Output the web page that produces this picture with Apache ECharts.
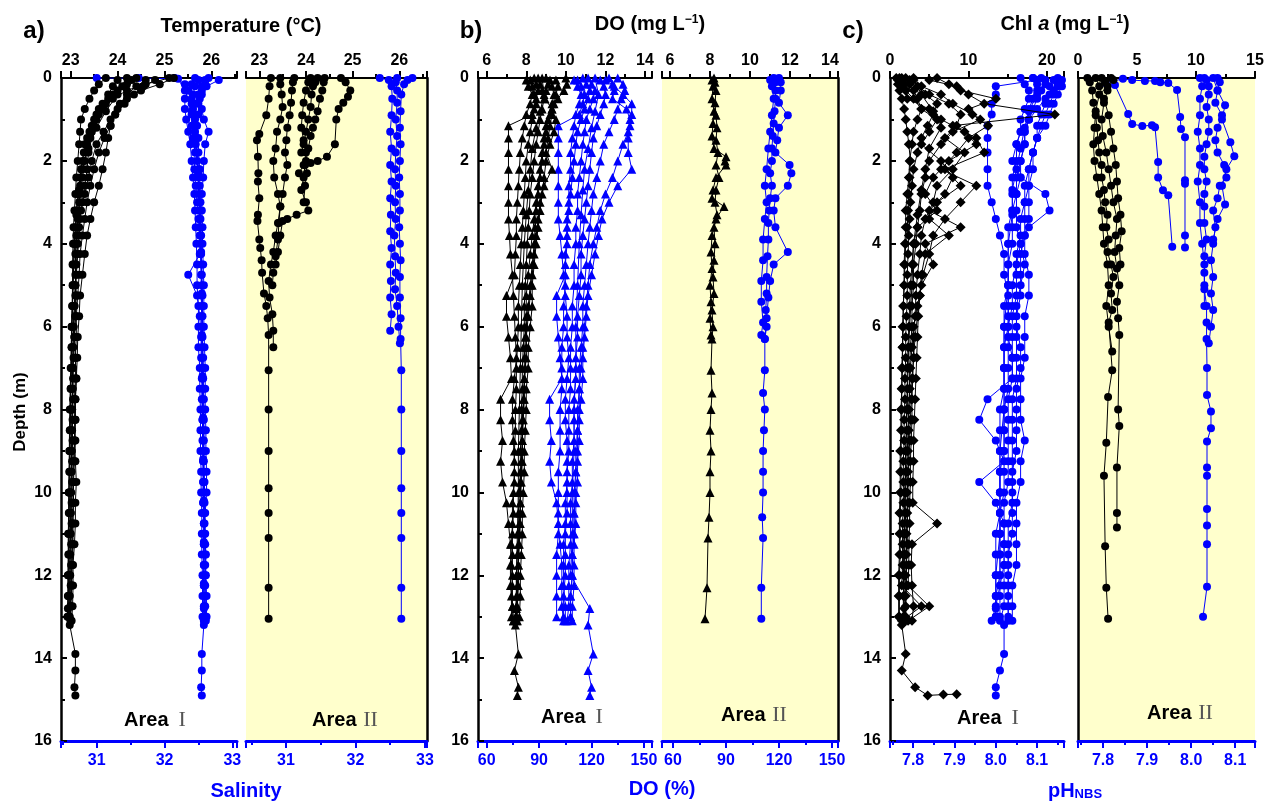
<!DOCTYPE html>
<html>
<head>
<meta charset="utf-8">
<script src="https://cdn.jsdelivr.net/npm/echarts@6/dist/echarts.min.js"></script>
<style>
  html, body { margin: 0; padding: 0; background: #fff; }
  #chart { width: 1275px; height: 805px; }
</style>
</head>
<body>
<div id="chart"></div>
<script>
// depth grids (m) shared by the Area I profiles
const depthEven = [0, 0.15, 0.3, 0.5, 0.75, 1.0, 1.3, 1.6, 2.0, 2.4, 2.8, 3.2, 3.6, 4.0, 4.5, 5.0, 5.5, 6.0, 6.5, 7.0, 7.5, 8.0, 8.5, 9.0, 9.5, 10.0, 10.5, 11.0, 11.5, 12.0, 12.5, 13.0];
const depthOdd = [0.05, 0.2, 0.4, 0.62, 0.88, 1.15, 1.45, 1.8, 2.2, 2.6, 3.0, 3.4, 3.8, 4.25, 4.75, 5.25, 5.75, 6.25, 6.75, 7.25, 7.75, 8.25, 8.75, 9.25, 9.75, 10.25, 10.75, 11.25, 11.75, 12.25, 12.75, 13.1];
const depthLong = [0, 0.4, 0.8, 1.2, 1.7, 2.2, 2.7, 3.3, 4.0, 5.0, 6.0, 7.0, 8.0, 9.0, 10.0, 11.0, 12.0, 12.8, 13.2, 13.9, 14.3, 14.7, 14.9];

// a) Area I temperature (°C)
const tA1 = [25.1, 24.6, 24.2, 23.9, 23.7, 23.55, 23.45, 23.35, 23.3, 23.25, 23.2, 23.18, 23.15, 23.12, 23.1, 23.1, 23.08, 23.06, 23.05, 23.05, 23.04, 23.03, 23.03, 23.02, 23.02, 23.0, 23.0, 22.99, 22.98, 22.98, 22.97, 22.97];
const tA2 = [24.8, 24.55, 24.35, 24.15, 23.95, 23.85, 23.72, 23.6, 23.5, 23.42, 23.35, 23.3, 23.25, 23.2, 23.18, 23.15, 23.12, 23.12, 23.1, 23.1, 23.08, 23.1, 23.08, 23.06, 23.05, 23.05, 23.04, 23.05, 23.03, 23.02, 23.0, 23.0];
const tA3 = [24.4, 24.2, 24.0, 23.8, 23.6, 23.5, 23.4, 23.3, 23.25, 23.2, 23.15, 23.12, 23.1, 23.08, 23.06, 23.05, 23.04, 23.03, 23.02, 23.02, 23.0, 23.0, 22.98, 22.98, 22.97, 22.96, 22.96, 22.95, 22.95, 22.94, 22.94, 22.93];
const tA4 = [24.0, 23.9, 23.8, 23.68, 23.55, 23.45, 23.35, 23.28, 23.22, 23.2, 23.18, 23.15, 23.12, 23.1, 23.1, 23.12, 23.1, 23.08, 23.1, 23.12, 23.1, 23.08, 23.1, 23.08, 23.06, 23.06, 23.05, 23.04, 23.02, 23.02, 23.0, 23.0];
const tA5 = [23.75, 23.6, 23.5, 23.4, 23.3, 23.22, 23.2, 23.18, 23.15, 23.12, 23.1, 23.08, 23.06, 23.05, 23.04, 23.04, 23.03, 23.02, 23.02, 23.01, 23.0, 23.0, 22.99, 22.99, 22.98, 22.98, 22.97, 22.97, 22.96, 22.96, 22.95, 22.95];
const tA6 = [24.6, 24.4, 24.2, 24.05, 23.95, 23.85, 23.8, 23.75, 23.68, 23.6, 23.5, 23.42, 23.35, 23.3, 23.25, 23.2, 23.18, 23.15, 23.14, 23.12, 23.1, 23.1, 23.08, 23.1, 23.12, 23.1, 23.1, 23.08, 23.05, 23.05, 23.04, 23.02];
const tA7 = [25.2, 24.9, 24.5, 24.2, 24.0, 23.85, 23.7, 23.55, 23.45, 23.38, 23.3, 23.22, 23.18, 23.15, 23.12, 23.1, 23.08, 23.06, 23.05, 23.04, 23.04, 23.03, 23.02, 23.02, 23.01, 23.01, 23.0, 23.0, 22.99, 22.99, 22.98, 22.98];
const tA8 = [24.2, 24.0, 23.75, 23.55, 23.38, 23.25, 23.18, 23.12, 23.08, 23.05, 23.02, 23.0, 22.98, 22.97, 22.96, 22.95, 22.95, 22.94, 22.98, 23.1, 23.1, 23.08, 23.1];
const tA9 = [24.3, 24.1, 23.9, 23.75, 23.6, 23.5, 23.42, 23.38, 23.35, 23.3, 23.25, 23.2, 23.18, 23.15, 23.12, 23.1, 23.1, 23.08, 23.06, 23.05, 23.05, 23.04, 23.04, 23.03, 23.03, 23.02, 23.02, 23.01, 23.01, 23.0, 23.0, 23.0];

// a) Area I salinity
const sA1 = [32.15, 32.3, 32.35, 32.4, 32.42, 32.45, 32.45, 32.46, 32.48, 32.5, 32.5, 32.52, 32.52, 32.53, 32.55, 32.55, 32.55, 32.56, 32.56, 32.57, 32.57, 32.57, 32.58, 32.58, 32.58, 32.58, 32.59, 32.59, 32.6, 32.6, 32.6, 32.6];
const sA2 = [32.8, 32.62, 32.55, 32.5, 32.5, 32.48, 32.5, 32.5, 32.52, 32.52, 32.53, 32.53, 32.54, 32.54, 32.55, 32.56, 32.56, 32.56, 32.57, 32.57, 32.58, 32.58, 32.58, 32.58, 32.59, 32.59, 32.59, 32.6, 32.6, 32.6, 32.6, 32.61];
const sA3 = [32.45, 32.4, 32.35, 32.3, 32.3, 32.32, 32.35, 32.38, 32.4, 32.42, 32.44, 32.45, 32.46, 32.47, 32.48, 32.48, 32.5, 32.5, 32.5, 32.52, 32.52, 32.53, 32.53, 32.53, 32.54, 32.54, 32.55, 32.55, 32.55, 32.56, 32.56, 32.56];
const sA4 = [32.6, 32.55, 32.5, 32.45, 32.4, 32.4, 32.42, 32.45, 32.44, 32.46, 32.48, 32.5, 32.52, 32.52, 32.35, 32.48, 32.52, 32.54, 32.54, 32.55, 32.55, 32.56, 32.56, 32.57, 32.57, 32.57, 32.58, 32.58, 32.58, 32.58, 32.59, 32.59];
const sA5 = [32.65, 32.6, 32.55, 32.52, 32.55, 32.58, 32.65, 32.6, 32.58, 32.57, 32.55, 32.55, 32.56, 32.56, 32.57, 32.58, 32.58, 32.58, 32.59, 32.6, 32.6, 32.6, 32.61, 32.61, 32.62, 32.62, 32.6, 32.6, 32.61, 32.61, 32.62, 32.62];
const sA6 = [[31.0, 0], [31.62, 0], [32.2, 0.02], [32.3, 0.3], [32.4, 0.8], [32.45, 1.5], [32.5, 2.3], [32.52, 3.2], [32.54, 4.2], [32.55, 5.2], [32.55, 6.2], [32.56, 7.2], [32.57, 8.2], [32.57, 9.2], [32.58, 10.2], [32.58, 11.2], [32.58, 12.2], [32.58, 12.8], [32.58, 13.2], [32.55, 13.9], [32.55, 14.3], [32.54, 14.7], [32.55, 14.9]];
const sA7 = [32.5, 32.45, 32.42, 32.4, 32.42, 32.44, 32.46, 32.48, 32.5, 32.5, 32.51, 32.52, 32.53, 32.53, 32.54, 32.54, 32.55, 32.55, 32.55, 32.56, 32.56, 32.56, 32.57, 32.57, 32.57, 32.57, 32.58, 32.58, 32.58, 32.58, 32.58, 32.58];

// a) Area II temperature / salinity, [value, depth]
const tB1 = [[23.25, 0], [23.22, 0.2], [23.2, 0.5], [23.15, 0.9], [23.0, 1.35], [22.95, 1.5], [22.97, 1.9], [22.98, 2.3], [22.97, 2.5], [23.0, 2.9], [22.97, 3.3], [22.96, 3.45], [23.0, 3.9], [23.02, 4.1], [23.05, 4.4], [23.06, 4.7], [23.1, 5.2], [23.15, 5.5], [23.18, 5.8], [23.2, 6.2], [23.2, 7.05], [23.2, 8.0], [23.2, 9.0], [23.2, 9.9], [23.2, 10.5], [23.2, 11.1], [23.2, 12.3], [23.2, 13.05]];
const tB2 = [[23.45, 0], [23.45, 0.15], [23.48, 0.4], [23.5, 0.7], [23.45, 1.0], [23.38, 1.3], [23.35, 1.7], [23.3, 2.0], [23.32, 2.4], [23.4, 2.8], [23.45, 3.1], [23.4, 3.5], [23.35, 3.8], [23.3, 4.2], [23.25, 4.5], [23.2, 4.9], [23.22, 5.3], [23.28, 5.7], [23.3, 6.1], [23.3, 6.5]];
const tB3 = [[23.75, 0], [23.72, 0.1], [23.7, 0.3], [23.68, 0.6], [23.65, 0.9], [23.6, 1.2], [23.58, 1.5], [23.55, 1.8], [23.6, 2.1], [23.55, 2.4], [23.5, 2.8], [23.45, 3.1], [23.42, 3.5], [23.4, 3.9], [23.35, 4.3], [23.3, 4.7], [23.28, 5.0]];
const tB4 = [[24.1, 0], [24.05, 0.1], [24.0, 0.3], [23.95, 0.6], [23.92, 0.9], [23.9, 1.2], [23.95, 1.5], [24.0, 1.8], [23.98, 2.1], [23.95, 2.4], [23.9, 2.7], [24.0, 3.0], [24.05, 3.2], [23.8, 3.3], [23.6, 3.4], [23.5, 3.45], [23.45, 3.8], [23.4, 4.2], [23.35, 4.5]];
const tB5 = [[24.4, 0], [24.38, 0.1], [24.35, 0.3], [24.3, 0.5], [24.25, 0.8], [24.2, 1.0], [24.15, 1.2], [24.1, 1.4], [24.05, 1.7], [24.0, 2.0], [24.02, 2.3], [23.98, 2.6], [23.95, 3.0]];
const tB6 = [[24.75, 0], [24.85, 0.1], [24.95, 0.3], [24.9, 0.45], [24.8, 0.6], [24.7, 0.75], [24.65, 1.0], [24.62, 1.6], [24.45, 1.9], [24.25, 2.0], [24.1, 2.05], [23.95, 2.1], [23.85, 2.3]];
const tB7 = [[24.25, 0], [24.2, 0.1], [24.15, 0.2], [24.12, 0.4], [24.1, 0.7], [24.05, 1.0], [24.0, 1.3], [23.95, 1.6], [23.9, 1.8]];
const sB1 = [[32.35, 0], [32.48, 0.05], [32.52, 0.2], [32.53, 0.5], [32.52, 0.9], [32.5, 1.3], [32.52, 1.7], [32.5, 2.1], [32.52, 2.5], [32.5, 2.9], [32.51, 3.3], [32.5, 3.7], [32.52, 4.1], [32.5, 4.5], [32.51, 4.9], [32.5, 5.3], [32.52, 5.7], [32.5, 6.1]];
const sB2 = [[32.82, 0], [32.75, 0.05], [32.7, 0.15], [32.66, 0.4], [32.65, 0.8], [32.64, 1.2], [32.65, 1.6], [32.64, 2.0], [32.63, 2.4], [32.64, 2.8], [32.64, 3.2], [32.63, 3.6], [32.64, 4.0], [32.65, 4.4], [32.64, 4.8], [32.64, 5.3], [32.65, 5.8], [32.65, 6.3], [32.66, 7.05], [32.66, 8.0], [32.66, 9.0], [32.66, 9.9], [32.66, 10.5], [32.66, 11.1], [32.66, 12.3], [32.66, 13.05]];
const sB3 = [[32.6, 0], [32.58, 0.1], [32.6, 0.3], [32.6, 0.6], [32.58, 1.0], [32.6, 1.4], [32.58, 1.8], [32.57, 2.2], [32.58, 2.6], [32.57, 3.0], [32.58, 3.4], [32.56, 3.8], [32.57, 4.3], [32.58, 4.7], [32.57, 5.1], [32.6, 5.5], [32.62, 6.0], [32.64, 6.4]];

// b) Area I DO (mg/L) and DO (%)
const doA1 = [8.6, 8.7, 8.8, 8.9, 8.8, 8.7, 8.6, 8.5, 8.4, 8.3, 8.2, 8.15, 8.1, 8.05, 8.0, 7.95, 7.9, 7.9, 7.85, 7.8, 7.8, 7.75, 7.75, 7.7, 7.7, 7.65, 7.6, 7.6, 7.55, 7.5, 7.5, 7.45];
const doA2 = [9.2, 9.3, 9.4, 9.3, 9.2, 9.0, 8.9, 8.8, 8.7, 8.6, 8.5, 8.4, 8.3, 8.2, 8.1, 8.0, 8.0, 7.95, 7.9, 7.9, 7.85, 7.8, 7.8, 7.75, 7.7, 7.7, 7.65, 7.6, 7.6, 7.55, 7.5, 7.5];
const doA3 = [10.0, 10.05, 9.9, 9.6, 9.3, 9.1, 9.0, 8.9, 8.8, 8.7, 8.6, 8.5, 8.45, 8.4, 8.3, 8.2, 8.1, 8.0, 8.0, 7.95, 7.9, 7.85, 7.8, 7.8, 7.75, 7.7, 7.7, 7.65, 7.6, 7.6, 7.55, 7.5];
const doA4 = [8.2, 8.3, 8.4, 8.5, 8.3, 7.1, 7.1, 7.1, 7.1, 7.1, 7.1, 7.1, 7.15, 7.2, 7.3, 7.35, 7.4, 7.45, 7.5, 7.4, 7.3, 7.3, 7.35, 7.4, 7.4, 7.3, 7.3, 7.25, 7.2, 7.2, 7.3, 7.35];
const doA5 = [9.0, 9.1, 9.0, 8.95, 9.3, 9.5, 9.4, 9.2, 9.0, 8.9, 8.8, 8.7, 8.6, 8.5, 8.4, 8.3, 8.3, 8.2, 8.1, 8.1, 8.0, 8.0, 7.95, 7.9, 7.9, 7.85, 7.8, 7.8, 7.75, 7.7, 7.7, 7.65];
const doA6 = [8.0, 8.1, 8.3, 8.2, 8.0, 7.9, 7.8, 7.7, 7.65, 7.6, 7.55, 7.5, 7.5, 7.45, 7.4, 7.0, 7.0, 7.1, 7.2, 7.25, 6.7, 6.7, 6.8, 6.7, 6.8, 7.0, 7.1, 7.2, 7.25, 7.3, 7.3, 7.35];
const doA7 = [8.8, 8.9, 8.7, 8.5, 8.3, 8.2, 8.1, 8.0, 7.9, 7.8, 7.75, 7.7, 7.65, 7.6, 7.6, 7.55, 7.5, 7.5, 7.45, 7.6, 7.4, 7.6, 7.55];
const doA8 = [9.5, 9.6, 9.5, 9.4, 9.3, 9.2, 9.1, 9.0, 9.3, 8.9, 8.7, 8.6, 8.5, 8.4, 8.3, 8.2, 8.1, 8.0, 8.0, 7.9, 7.9, 7.85, 7.8, 7.8, 7.75, 7.7, 7.7, 7.65, 7.6, 7.6, 7.55, 7.55];
const doA9 = [8.4, 8.5, 8.6, 8.5, 8.4, 8.3, 8.2, 8.1, 8.0, 7.95, 7.9, 7.85, 7.8, 7.75, 7.7, 7.65, 7.6, 7.6, 7.55, 7.5, 7.5, 7.45, 7.45, 7.4, 7.4, 7.35, 7.35, 7.3, 7.3, 7.3, 7.25, 7.25];
const dpA1 = [118, 120, 122, 121, 119, 117, 116, 115, 114, 113, 112, 112, 111, 111, 110, 110, 109, 109, 108, 108, 108, 107, 107, 107, 106, 106, 106, 105, 105, 105, 104, 104];
const dpA2 = [125, 127, 128, 127, 125, 123, 121, 120, 119, 118, 117, 116, 115, 114, 114, 113, 112, 112, 111, 111, 110, 110, 110, 109, 109, 108, 108, 108, 107, 107, 107, 106];
const dpA3 = [135, 138, 139, 137, 135, 133, 130, 127, 125, 123, 121, 120, 119, 118, 117, 116, 115, 115, 114, 113, 113, 112, 112, 111, 111, 110, 110, 110, 109, 109, 108, 108];
const dpA4 = [112, 114, 116, 115, 113, 101, 101, 101, 101, 101, 101, 101, 102, 103, 104, 105, 106, 106, 107, 106, 105, 105, 106, 106, 106, 105, 105, 104, 104, 104, 105, 105];
const dpA5 = [130, 132, 133, 132, 140, 142, 141, 138, 135, 132, 128, 125, 123, 121, 119, 118, 117, 116, 115, 114, 113, 113, 112, 112, 111, 111, 110, 110, 109, 109, 108, 108];
const dpA6 = [110, 112, 114, 113, 111, 110, 109, 108, 108, 107, 107, 106, 106, 105, 105, 100, 100, 101, 102, 103, 96, 96, 97, 96, 97, 100, 101, 102, 103, 103, 103, 104];
const dpA7 = [122, 124, 122, 120, 118, 116, 115, 114, 113, 112, 111, 111, 110, 110, 109, 109, 108, 119, 118, 121, 118, 120, 119];
const dpA8 = [128, 133, 138, 143, 143, 142, 141, 141, 143, 135, 130, 126, 124, 122, 120, 118, 117, 116, 115, 115, 114, 113, 113, 112, 112, 111, 111, 110, 110, 110, 109, 109];
const dpA9 = [115, 117, 119, 118, 116, 114, 112, 111, 110, 109, 108, 107, 106, 106, 105, 105, 104, 104, 103, 103, 103, 102, 102, 102, 101, 101, 101, 101, 100, 100, 100, 100];

// b) Area II
const doB1 = [[8.2, 0], [8.25, 0.1], [8.3, 0.3], [8.25, 0.6], [8.3, 0.9], [8.35, 1.2], [8.3, 1.5], [8.4, 1.8], [8.3, 2.1], [8.45, 2.4], [8.3, 2.7], [8.25, 3.0], [8.35, 3.3], [8.2, 3.6], [8.25, 4.0], [8.2, 4.4], [8.15, 4.8], [8.2, 5.2], [8.1, 5.6], [8.15, 6.0], [8.1, 6.3], [8.05, 7.05], [8.1, 7.6], [8.05, 8.0], [8.0, 8.5], [8.05, 9.0], [8.0, 9.5], [8.0, 10.0], [7.95, 10.6], [7.9, 11.1], [7.85, 12.3], [7.75, 13.05]];
const doB2 = [[8.1, 0.05], [8.15, 0.2], [8.1, 0.5], [8.2, 0.8], [8.15, 1.1], [8.1, 1.4], [8.2, 1.7], [8.8, 1.9], [8.75, 2.0], [8.8, 2.1], [8.3, 2.4], [8.15, 2.7], [8.1, 2.9], [8.7, 3.1], [8.3, 3.4], [8.1, 3.8], [8.05, 4.2], [8.1, 4.6], [8.0, 5.0], [8.05, 5.4], [8.0, 5.8], [8.05, 6.2]];
const dpB1 = [[117, 0], [118, 0.1], [118, 0.3], [118, 0.5], [117.5, 0.8], [117, 1.1], [116.5, 1.4], [116, 1.7], [116, 2.0], [115, 2.3], [116, 2.6], [115, 2.9], [114.5, 3.2], [114, 3.5], [114, 3.9], [113.5, 4.3], [113, 4.8], [113, 5.2], [112.5, 5.6], [113, 6.0], [112, 6.3], [112, 7.05], [111, 7.6], [112, 8.0], [111.5, 8.5], [111, 9.0], [111, 9.5], [111, 10.0], [110.5, 10.6], [111, 11.1], [110, 12.3], [110, 13.05]];
const dpB2 = [[120, 0], [121, 0.1], [121, 0.3], [120, 0.6], [125, 0.9], [120, 1.2], [119, 1.5], [118, 1.8], [126, 2.1], [127, 2.3], [125, 2.6], [118, 2.9], [117, 3.2], [118, 3.6], [125, 4.2], [117, 4.5], [115, 4.9], [114, 5.3], [113, 5.8], [112, 6.3]];
const dpB3 = [[115, 0.05], [116, 0.2], [117, 0.5], [116, 0.9], [115, 1.3], [114, 1.7], [113, 2.2], [112, 2.6], [113, 3.0], [112, 3.4], [111, 3.9], [111, 4.4], [110, 4.9], [110, 5.4], [111, 5.9], [110, 6.2]];

// c) Area I Chl a and pH
const chA1 = [2.0, 2.5, 3.0, 3.5, 4.0, 3.5, 3.0, 2.8, 2.5, 2.4, 2.2, 2.0, 2.0, 1.9, 1.8, 1.8, 1.7, 1.7, 1.6, 1.6, 1.5, 1.5, 1.5, 1.4, 1.4, 1.4, 1.3, 1.3, 1.3, 1.2, 1.2, 1.2];
const chA2 = [1.0, 1.5, 4.5, 6.0, 5.5, 4.8, 4.0, 3.5, 3.0, 2.8, 2.6, 2.5, 2.4, 2.3, 2.2, 2.2, 2.1, 2.0, 2.0, 1.9, 1.9, 1.8, 1.8, 1.7, 1.7, 1.7, 1.6, 1.6, 1.6, 1.5, 4.0, 1.5];
const chA3 = [6.0, 7.5, 9.0, 13.5, 10.0, 11.5, 8.0, 6.5, 5.0, 4.5, 4.0, 3.8, 3.5, 3.3, 3.0, 3.0, 2.8, 2.8, 2.6, 2.5, 2.5, 2.4, 2.4, 2.3, 2.3, 2.2, 2.2, 2.1, 2.1, 2.0, 2.0, 2.0];
const chA4 = [3.0, 3.5, 5.0, 7.5, 9.0, 8.5, 7.0, 9.5, 8.0, 6.0, 5.5, 4.5, 4.0, 3.8, 3.5, 3.3, 3.2, 3.0, 3.0, 2.9, 2.8, 2.8, 2.7, 2.6, 2.6, 2.5, 2.5, 2.4, 2.4, 2.3, 5.0, 2.3];
const chA5 = [0.8, 1.0, 1.2, 1.5, 1.8, 2.0, 2.2, 2.4, 2.6, 2.5, 2.4, 2.3, 2.2, 2.0, 1.9, 1.8, 1.7, 1.6, 1.6, 1.5, 1.5, 1.4, 1.4, 1.3, 1.3, 1.3, 1.2, 1.2, 1.2, 1.1, 1.1, 1.1];
const chA6 = [5.0, 8.5, 10.0, 12.0, 21.0, 8.0, 11.0, 12.0, 7.0, 9.0, 6.0, 5.0, 7.5, 4.5, 4.0, 3.8, 3.6, 3.5, 3.4, 3.3, 3.2, 3.1, 3.0, 3.0, 2.9, 2.9, 6.0, 2.8, 2.7, 2.8, 3.0, 2.8];
const chA7 = [1.5, 1.8, 2.0, 2.2, 5.0, 6.5, 9.5, 11.0, 7.5, 5.5, 4.5, 6.0, 3.5, 3.0, 2.8, 2.6, 2.5, 2.4, 2.3, 2.2, 2.2, 2.1, 2.1, 2.0, 2.0, 1.9, 1.9, 1.8, 1.8, 1.8, 1.7, 1.7];
const chA8 = [3.0, 4.0, 5.5, 6.5, 5.0, 4.5, 4.0, 3.5, 3.0, 2.8, 2.5, 2.3, 2.2, 2.0, 1.9, 1.8, 1.7, 1.8, 1.5, 2.0, 1.5, 3.2, 4.8];
const chA8Tail = [[6.8, 14.88], [8.5, 14.87]];
const chA9 = [2.5, 4.0, 6.5, 8.0, 10.5, 12.5, 10.0, 8.5, 6.5, 11.0, 9.0, 7.0, 5.5, 5.0, 4.2, 3.8, 3.5, 3.2, 3.0, 2.8, 2.7, 2.6, 2.5, 2.4, 2.3, 2.3, 2.2, 2.2, 2.1, 2.1, 2.0, 2.0];
const chA10 = [1.2, 1.5, 2.0, 3.0, 4.0, 6.0, 5.0, 4.0, 6.5, 8.0, 7.0, 5.0, 9.0, 4.5, 5.5, 4.0, 3.5, 3.0, 2.8, 2.6, 2.5, 2.4, 2.3, 2.2, 2.1, 2.0, 2.0, 1.9, 1.9, 1.8, 1.8, 1.8];
const phA1 = [8.06, 8.07, 8.08, 8.08, 8.07, 8.06, 8.06, 8.05, 8.05, 8.04, 8.04, 8.04, 8.03, 8.03, 8.03, 8.03, 8.02, 8.02, 8.02, 8.02, 8.02, 8.01, 8.01, 8.01, 8.01, 8.01, 8.01, 8.0, 8.0, 8.0, 8.0, 8.0];
const phA2 = [8.12, 8.13, 8.14, 8.13, 8.12, 8.11, 8.1, 8.09, 8.08, 8.07, 8.07, 8.06, 8.06, 8.05, 8.05, 8.05, 8.04, 8.04, 8.04, 8.04, 8.03, 8.03, 8.03, 8.03, 8.03, 8.02, 8.02, 8.02, 8.02, 8.02, 8.02, 8.01];
const phA3 = [8.15, 8.15, 8.14, 8.12, 8.1, 8.08, 8.06, 8.05, 8.04, 8.06, 8.12, 8.13, 8.08, 8.06, 8.05, 8.04, 8.04, 8.03, 8.03, 8.03, 8.03, 8.02, 8.02, 8.02, 8.02, 8.02, 8.01, 8.01, 8.01, 8.01, 8.01, 8.01];
const phA4 = [8.1, 8.0, 8.0, 7.99, 7.99, 7.98, 7.98, 7.98, 7.98, 7.98, 7.99, 8.0, 8.01, 8.02, 8.02, 8.03, 8.03, 8.03, 8.04, 8.04, 7.98, 7.96, 8.0, 8.02, 7.96, 8.0, 8.02, 8.02, 8.02, 8.01, 8.0, 7.99];
const phA5 = [8.11, 8.12, 8.1, 8.09, 8.08, 8.08, 8.07, 8.07, 8.06, 8.06, 8.05, 8.05, 8.05, 8.06, 8.07, 8.06, 8.05, 8.05, 8.06, 8.06, 8.05, 8.05, 8.05, 8.05, 8.04, 8.04, 8.04, 8.04, 8.03, 8.03, 8.03, 8.03];
const phA6 = [8.16, 8.16, 8.15, 8.14, 8.13, 8.12, 8.1, 8.09, 8.08, 8.08, 8.07, 8.07, 8.07, 8.06, 8.06, 8.06, 8.05, 8.05, 8.05, 8.05, 8.04, 8.04, 8.04, 8.04, 8.04, 8.04, 8.03, 8.03, 8.03, 8.03, 8.03, 8.03];
const phA7 = [8.09, 8.1, 8.08, 8.07, 8.06, 8.05, 8.04, 8.04, 8.03, 8.03, 8.02, 8.02, 8.02, 8.01, 8.01, 8.01, 8.0, 8.0, 8.02, 8.02, 8.01, 8.0, 8.0];
const phA8 = [8.09, 8.1, 8.11, 8.1, 8.09, 8.08, 8.07, 8.07, 8.06, 8.05, 8.05, 8.04, 8.04, 8.04, 8.03, 8.03, 8.03, 8.03, 8.02, 8.02, 8.02, 8.02, 8.02, 8.02, 8.01, 8.01, 8.01, 8.01, 8.01, 8.01, 8.0, 8.0];
const phA9 = [8.14, 8.15, 8.13, 8.12, 8.11, 8.1, 8.1, 8.09, 8.09, 8.08, 8.08, 8.08, 8.07, 8.07, 8.08, 8.08, 8.07, 8.07, 8.07, 8.06, 8.06, 8.06, 8.07, 8.06, 8.06, 8.05, 8.05, 8.05, 8.05, 8.04, 8.04, 8.04];

// c) Area II
const chB1 = [[0.8, 0], [1.0, 0.1], [1.2, 0.3], [1.3, 0.6], [1.5, 0.9], [1.6, 1.2], [1.7, 1.5], [1.8, 1.8], [2.0, 2.1], [2.0, 2.4], [2.2, 2.7], [2.3, 3.0], [2.5, 3.3], [2.4, 3.6], [2.6, 3.9], [2.5, 4.2], [2.8, 4.5], [3.0, 4.8], [2.8, 5.2], [2.9, 5.6], [2.6, 5.9], [2.9, 7.05], [2.55, 7.7], [2.4, 8.8], [2.2, 9.6], [2.3, 11.3], [2.4, 12.3], [2.55, 13.05]];
const chB2 = [[2.0, 0], [2.3, 0.1], [2.5, 0.3], [2.2, 0.6], [2.0, 1.0], [2.1, 1.4], [2.4, 1.8], [2.6, 2.2], [2.8, 2.6], [3.0, 3.0], [3.3, 3.4], [3.2, 3.8], [3.1, 4.2], [3.3, 4.6], [3.5, 5.0], [3.3, 5.4], [3.4, 5.8], [3.5, 6.2], [3.4, 8.0], [3.5, 8.4], [3.3, 9.4], [3.3, 10.5], [3.3, 10.85]];
const chB3 = [[2.8, 0], [3.0, 0.05], [2.5, 0.2], [1.8, 0.4], [1.5, 0.8], [1.4, 1.2], [1.3, 1.6], [1.4, 2.0], [1.6, 2.4], [1.8, 2.8], [2.0, 3.2], [2.1, 3.6], [2.2, 4.0], [2.5, 4.5], [2.6, 5.0], [2.4, 5.5], [2.6, 6.0], [2.9, 6.6]];
const chB4 = [[1.5, 0], [1.8, 0.2], [2.2, 0.5], [2.6, 0.9], [2.8, 1.3], [3.0, 1.7], [3.2, 2.1], [3.3, 2.5], [3.4, 2.9], [3.6, 3.3], [3.7, 3.7], [3.5, 4.1], [3.6, 4.5]];
const phB1 = [[7.827, 0.17], [7.857, 0.87], [7.866, 1.11], [7.889, 1.16], [7.911, 1.14], [7.918, 1.19], [7.925, 2.03], [7.925, 2.4], [7.936, 2.71], [7.948, 2.83], [7.957, 4.07]];
const phB2 = [[7.805, 0.12], [7.845, 0.02], [7.866, 0.05], [7.895, 0.07], [7.918, 0.07], [7.93, 0.1], [7.948, 0.12], [7.968, 0.29], [7.975, 0.94], [7.977, 1.23], [7.986, 1.43], [7.986, 2.47], [7.986, 2.55], [7.986, 3.8], [7.986, 4.09]];
const phB3 = [[8.03, 0], [8.035, 0.05], [8.04, 0.2], [8.04, 0.4], [8.035, 0.7], [8.04, 1.0], [8.04, 1.3], [8.035, 1.6], [8.03, 1.9], [8.03, 2.2], [8.035, 2.5], [8.03, 2.8], [8.03, 3.1], [8.03, 3.5], [8.035, 3.9], [8.03, 4.3], [8.03, 4.7], [8.03, 5.1], [8.035, 5.5], [8.035, 5.9], [8.035, 6.3], [8.036, 7.0], [8.036, 7.65], [8.045, 8.05], [8.045, 8.45], [8.036, 8.77], [8.036, 9.4], [8.036, 9.6], [8.036, 10.4], [8.036, 10.8], [8.036, 11.25], [8.036, 12.28], [8.027, 13.0]];
const phB4 = [[8.06, 0], [8.065, 0.1], [8.06, 0.3], [8.055, 0.6], [8.07, 0.9], [8.06, 1.2], [8.055, 1.5], [8.06, 1.8], [8.075, 2.1], [8.08, 2.4], [8.065, 2.6], [8.06, 2.9], [8.05, 3.2], [8.055, 3.6], [8.05, 4.0], [8.045, 4.4], [8.05, 4.8], [8.045, 5.2], [8.05, 5.6], [8.045, 6.0], [8.04, 6.4]];
const phB5 = [[8.05, 0], [8.06, 0.3], [8.077, 0.66], [8.07, 1.0], [8.089, 1.55], [8.098, 1.89], [8.08, 2.2], [8.07, 2.6], [8.077, 3.05], [8.06, 3.4], [8.05, 3.9]];
const phB6 = [[8.02, 0], [8.025, 0.2], [8.02, 0.5], [8.02, 0.9], [8.015, 1.3], [8.02, 1.7], [8.02, 2.1], [8.015, 2.5], [8.02, 3.0], [8.02, 3.5], [8.025, 4.0], [8.03, 4.5], [8.03, 5.0], [8.03, 5.5]];

const FONT = '"Liberation Sans", Arial, sans-serif';
const BLUE = '#0000ff';
const BLACK = '#000000';

const zip = (vals, depths) => vals.map((v, i) => [v, depths[i]]).filter(p => p[1] !== undefined);

// panel layout: grid box and the two x-axis ranges
const panels = [
  { left: 61, width: 176, top: [22.793, 26.548], bot: [30.473, 33.069], split: [4, 3], yellow: false },
  { left: 246, width: 181, top: [22.715, 26.594], bot: [30.424, 33.03], split: [4, 3], yellow: true },
  { left: 478, width: 174, top: [5.56, 14.354], bot: [55.02, 154.6], split: [4, 3], yellow: false },
  { left: 662, width: 176, top: [5.6, 14.4], bot: [53.8, 153.4], split: [4, 3], yellow: true },
  { left: 890, width: 174, top: [0, 22.17], bot: [7.744, 8.165], split: [2, 4], yellow: false },
  { left: 1078, width: 177, top: [0, 15], bot: [7.743, 8.145], split: [3, 4], yellow: true }
];

const grids = panels.map(p => ({
  left: p.left, width: p.width, top: 78, height: 663,
  show: p.yellow, backgroundColor: p.yellow ? '#ffffcc' : 'transparent', borderWidth: 0
}));

function xAx(gi, pos, range, split, color, opts) {
  const o = opts || {};
  const ax = {
    type: 'value', gridIndex: gi, position: pos, min: range[0], max: range[1],
    splitNumber: split,
    axisLine: { show: true, onZero: false, lineStyle: { color: color, width: pos === 'top' ? 2 : 3 } },
    axisTick: { show: true, inside: false, length: 7, lineStyle: { color: color, width: 2 } },
    minorTick: { show: true, splitNumber: 2, length: 4, lineStyle: { color: color, width: 2 } },
    splitLine: { show: false },
    axisLabel: {
      color: color, fontSize: 16, fontWeight: 'bold', fontFamily: FONT,
      margin: pos === 'top' ? 9 : 12,
      showMinLabel: !o.hideMin, showMaxLabel: !o.hideMax,
      formatter: o.fmt || (v => String(v))
    }
  };
  if (o.interval) ax.interval = o.interval;
  return ax;
}

const xAxes = [];
panels.forEach((p, i) => {
  const isChl = i >= 4;
  const topOpts = isChl ? (i === 5 ? { interval: 5 } : { hideMax: true }) : { hideMin: true, hideMax: true };
  const botOpts = isChl ? { hideMin: true, hideMax: true, fmt: v => v.toFixed(1) } : { hideMin: true, hideMax: true };
  xAxes.push(xAx(i, 'top', p.top, p.split[0], BLACK, topOpts));
  xAxes.push(xAx(i, 'bottom', p.bot, p.split[1], BLUE, botOpts));
});

const yAxes = panels.map((p, i) => {
  const lab = !p.yellow;
  return {
    type: 'value', gridIndex: i, inverse: true, min: 0, max: 16, interval: 2,
    position: lab ? 'left' : 'right',
    axisLine: { show: true, lineStyle: { color: BLACK, width: 2.5 } },
    axisTick: { show: lab, inside: true, length: 6, lineStyle: { color: BLACK, width: 2 } },
    minorTick: { show: lab, splitNumber: 2, length: 4, lineStyle: { color: BLACK, width: 2 } },
    splitLine: { show: false },
    axisLabel: { show: lab, color: BLACK, fontSize: 16, fontWeight: 'bold', fontFamily: FONT, margin: 9 }
  };
});

function prof(panel, onTop, data, color, symbol, size) {
  return {
    type: 'line', xAxisIndex: panel * 2 + (onTop ? 0 : 1), yAxisIndex: panel,
    data: data, symbol: symbol, symbolSize: size, showSymbol: true,
    itemStyle: { color: color }, lineStyle: { color: color, width: 1 },
    animation: false, silent: true, z: color === BLACK ? 3 : 2
  };
}

const series = [];
// blue first so that black sits on top
[[sA1, depthEven], [sA2, depthOdd], [sA3, depthEven], [sA4, depthOdd], [sA5, depthEven], [sA7, depthOdd]]
  .forEach(d => series.push(prof(0, false, zip(d[0], d[1]), BLUE, 'circle', 8)));
series.push(prof(0, false, sA6, BLUE, 'circle', 8));
[[tA1, depthEven], [tA2, depthOdd], [tA3, depthEven], [tA4, depthOdd], [tA5, depthEven], [tA6, depthOdd], [tA7, depthEven], [tA8, depthLong], [tA9, depthOdd]]
  .forEach(d => series.push(prof(0, true, zip(d[0], d[1]), BLACK, 'circle', 8)));

[sB1, sB2, sB3].forEach(d => series.push(prof(1, false, d, BLUE, 'circle', 8)));
[tB1, tB2, tB3, tB4, tB5, tB6, tB7].forEach(d => series.push(prof(1, true, d, BLACK, 'circle', 8)));

[[dpA1, depthEven], [dpA2, depthOdd], [dpA3, depthEven], [dpA4, depthOdd], [dpA5, depthEven], [dpA6, depthOdd], [dpA7, depthLong], [dpA8, depthOdd], [dpA9, depthEven]]
  .forEach(d => series.push(prof(2, false, zip(d[0], d[1]), BLUE, 'triangle', 9)));
[[doA1, depthEven], [doA2, depthOdd], [doA3, depthEven], [doA4, depthOdd], [doA5, depthEven], [doA6, depthOdd], [doA7, depthLong], [doA8, depthOdd], [doA9, depthEven]]
  .forEach(d => series.push(prof(2, true, zip(d[0], d[1]), BLACK, 'triangle', 9)));

[dpB1, dpB2, dpB3].forEach(d => series.push(prof(3, false, d, BLUE, 'circle', 8)));
[doB1, doB2].forEach(d => series.push(prof(3, true, d, BLACK, 'triangle', 9)));

[[phA1, depthEven], [phA2, depthOdd], [phA3, depthEven], [phA4, depthOdd], [phA5, depthEven], [phA6, depthOdd], [phA7, depthLong], [phA8, depthEven], [phA9, depthOdd]]
  .forEach(d => series.push(prof(4, false, zip(d[0], d[1]), BLUE, 'circle', 8)));
[[chA1, depthEven], [chA2, depthOdd], [chA3, depthEven], [chA4, depthOdd], [chA5, depthEven], [chA6, depthOdd], [chA7, depthEven], [chA9, depthOdd], [chA10, depthEven]]
  .forEach(d => series.push(prof(4, true, zip(d[0], d[1]), BLACK, 'diamond', 10)));
series.push(prof(4, true, zip(chA8, depthLong).concat(chA8Tail), BLACK, 'diamond', 10));

[phB1, phB2, phB3, phB4, phB5, phB6].forEach(d => series.push(prof(5, false, d, BLUE, 'circle', 8)));
[chB1, chB2, chB3, chB4].forEach(d => series.push(prof(5, true, d, BLACK, 'circle', 8)));

// texts
const main = { fontSize: 20, fontWeight: 'bold', fontFamily: FONT, fill: BLACK };
const mainBlue = { fontSize: 20, fontWeight: 'bold', fontFamily: FONT, fill: BLUE };
const sup = { fontSize: 12, fontWeight: 'bold', fontFamily: FONT, fill: BLACK, verticalAlign: 'top' };
const subBlue = { fontSize: 13, fontWeight: 'bold', fontFamily: FONT, fill: BLUE, verticalAlign: 'bottom' };
const ital = { fontSize: 20, fontWeight: 'bold', fontStyle: 'italic', fontFamily: FONT, fill: BLACK };
const areaRich = {
  b: { fontSize: 20, fontWeight: 'bold', fontFamily: FONT, fill: BLACK },
  r: { fontSize: 22, fontFamily: '"Liberation Serif", "DejaVu Serif", serif', fill: '#555555' }
};

function txt(x, y, text, rich, rot) {
  return {
    type: 'text', x: x, y: y, rotation: rot || 0, silent: true,
    style: { text: text, rich: rich, align: 'center', verticalAlign: 'middle' }
  };
}

const letter = { p: { fontSize: 24, fontWeight: 'bold', fontFamily: FONT, fill: BLACK } };
const graphics = [
  txt(34, 31, '{p|a)}', letter),
  txt(471, 31, '{p|b)}', letter),
  txt(853, 31, '{p|c)}', letter),
  txt(241, 26, '{m|Temperature (°C)}', { m: main }),
  txt(650, 24, '{m|DO (mg L}{s|−1}{m|)}', { m: main, s: sup }),
  txt(1065, 24, '{m|Chl }{i|a}{m| (mg L}{s|−1}{m|)}', { m: main, s: sup, i: ital }),
  txt(246, 791, '{m|Salinity}', { m: mainBlue }),
  txt(662, 789, '{m|DO (%)}', { m: mainBlue }),
  txt(1075, 791, '{m|pH}{u|NBS}', { m: mainBlue, u: subBlue }),
  txt(20, 412, '{m|Depth (m)}', { m: { fontSize: 17, fontWeight: 'bold', fontFamily: FONT, fill: BLACK } }, Math.PI / 2),
  txt(155, 720, '{b|Area}   {r|I}', areaRich),
  txt(345, 720, '{b|Area}  {r|II}', areaRich),
  txt(572, 717, '{b|Area}   {r|I}', areaRich),
  txt(754, 715, '{b|Area}  {r|II}', areaRich),
  txt(988, 718, '{b|Area}   {r|I}', areaRich),
  txt(1180, 713, '{b|Area}  {r|II}', areaRich)
];

const chart = echarts.init(document.getElementById('chart'), null, { renderer: 'canvas' });
chart.setOption({
  animation: false,
  backgroundColor: '#ffffff',
  grid: grids,
  xAxis: xAxes,
  yAxis: yAxes,
  series: series,
  graphic: graphics
});
</script>
</body>
</html>
